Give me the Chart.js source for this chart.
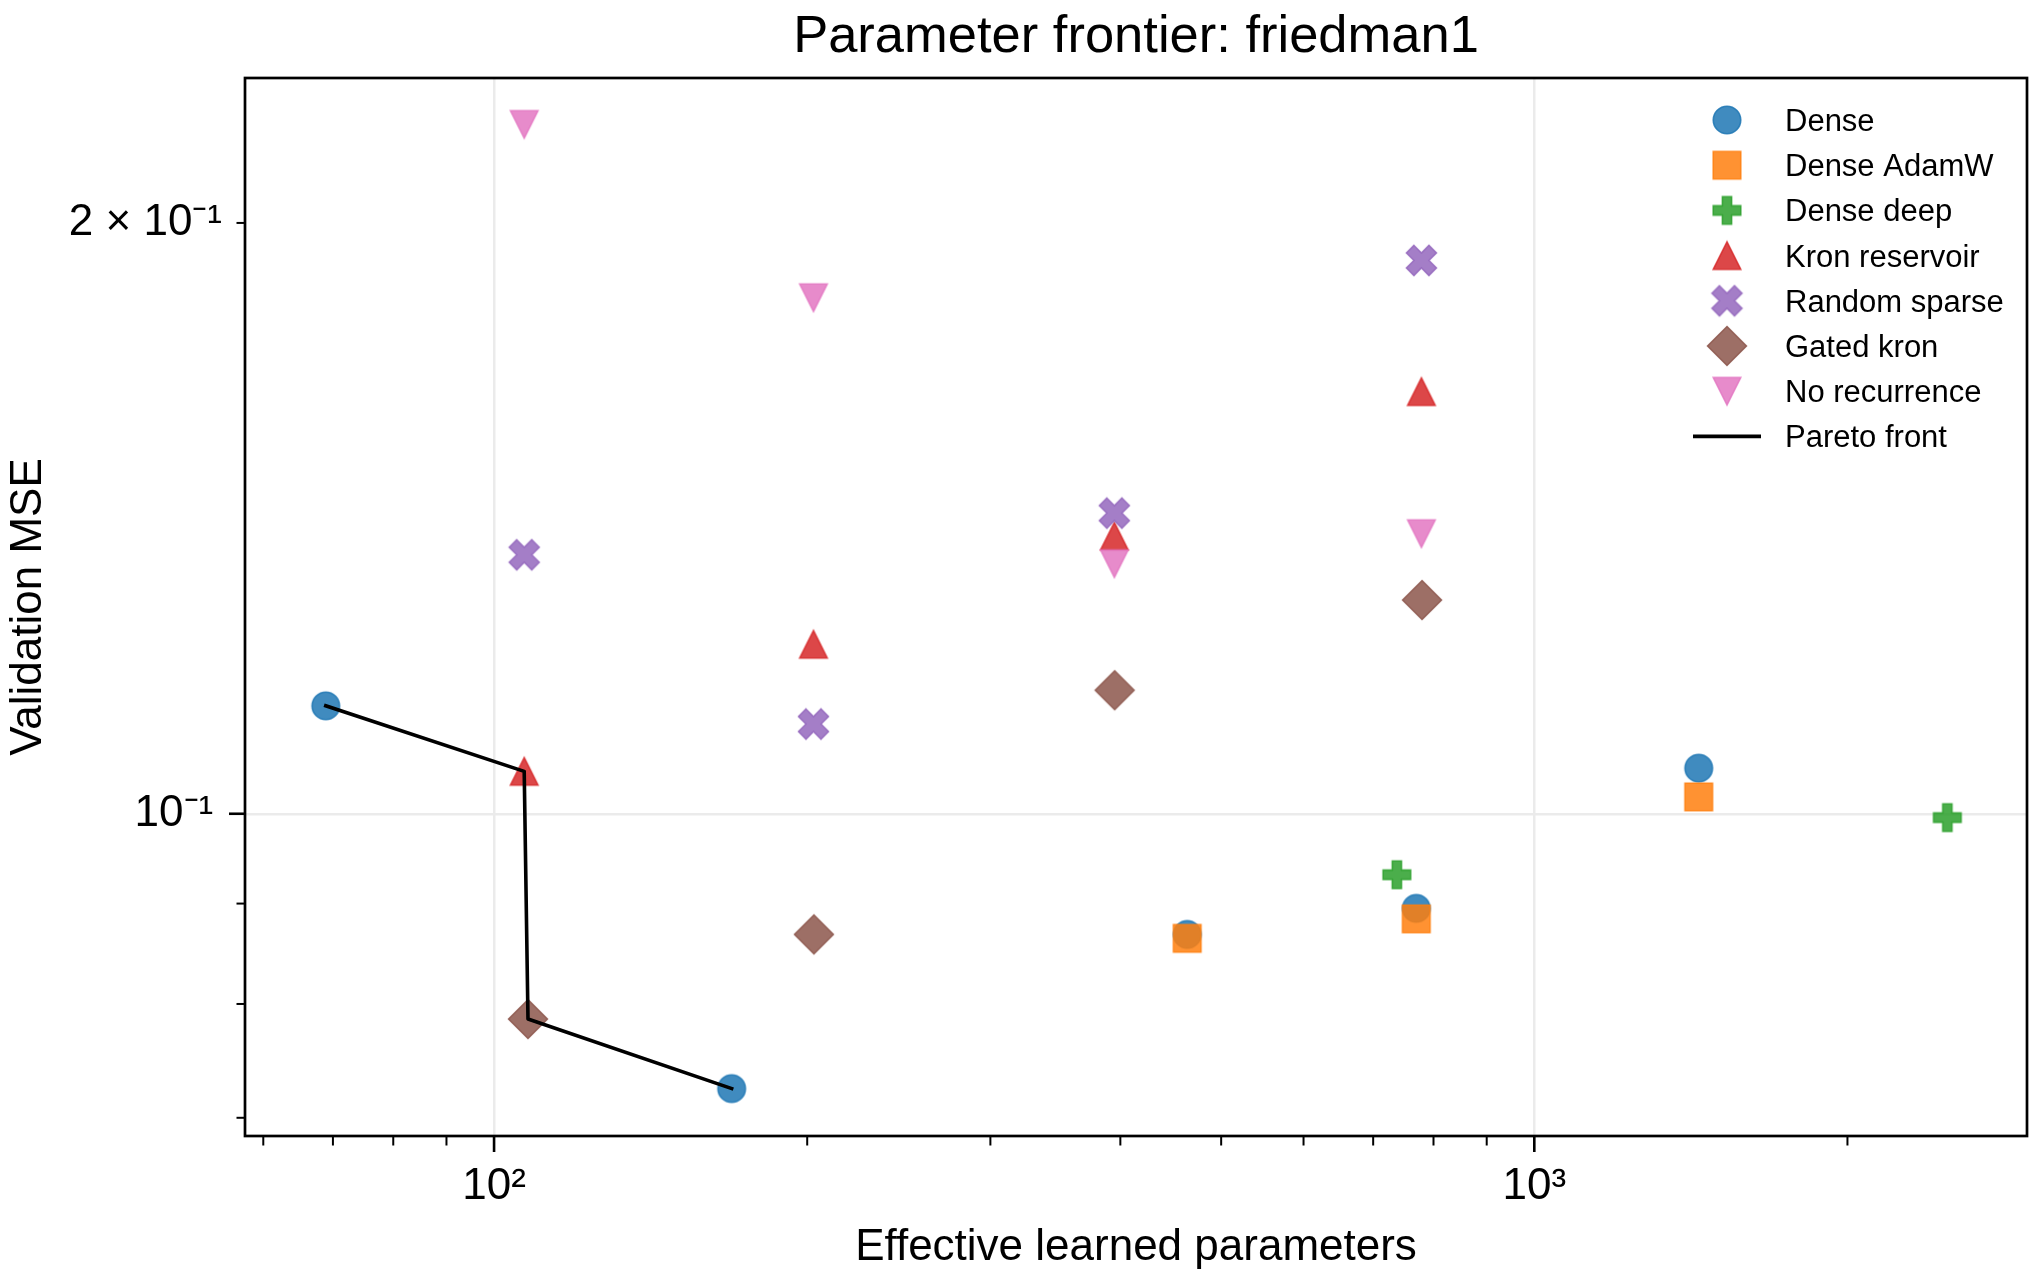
<!DOCTYPE html>
<html><head><meta charset="utf-8">
<script src="https://cdn.jsdelivr.net/npm/chart.js@4.4.1/dist/chart.umd.min.js"></script>
<style>html,body{margin:0;padding:0;background:#fff;}canvas{display:block;}</style>
</head><body>
<canvas id="c" width="2042" height="1284"></canvas>
<script>
// ---- data ----
const seriesNames = ['Dense', 'Dense AdamW', 'Dense deep', 'Kron reservoir', 'Random sparse', 'Gated kron', 'No recurrence'];
const denseX = [68.9, 169.2, 463.8, 770.1, 1439];
const denseY = [0.1135, 0.07244, 0.0868, 0.0895, 0.1055];
const adamwX = [463.8, 770.1, 1439];
const adamwY = [0.0864, 0.0884, 0.1020];
const deepX = [737.7, 2495];
const deepY = [0.0931, 0.09955];
const kronX = [106.9, 202.8, 394.7, 778.9];
const kronY = [0.1051, 0.1220, 0.1385, 0.1641];
const sparseX = [106.9, 202.8, 394.7, 778.9];
const sparseY = [0.1355, 0.1111, 0.1423, 0.1914];
const gatedX = [107.8, 203.0, 395.0, 780.0];
const gatedY = [0.0786, 0.0868, 0.1156, 0.1285];
const norecX = [106.9, 202.8, 394.7, 778.9];
const norecY = [0.2245, 0.1832, 0.1341, 0.1389];
const paretoLabel = 'Pareto front';
const paretoX = [68.9, 106.9, 107.8, 169.2];
const paretoY = [0.1135, 0.1051, 0.0786, 0.07244];
const xTickValues = [60, 70, 80, 90, 100, 200, 300, 400, 500, 600, 700, 800, 900, 1000, 2000];
const xTickLabels = ['', '', '', '', '10²', '', '', '', '', '', '', '', '', '10³', ''];
const xMajor = [100, 1000];
const yTickValues = [0.07, 0.08, 0.09, 0.1, 0.2];
const yTickLabels = ['', '', '', '10⁻¹\u2009', '2 × 10⁻¹'];
const yMajor = [0.1];
const titleText = 'Parameter frontier: friedman1';
const xTitle = 'Effective learned parameters';
const yTitle = 'Validation MSE';

// ---- styles ----
const FONT = '"Liberation Sans", Arial, Helvetica, sans-serif';
const colors = ['#1f77b4', '#ff7f0e', '#2ca02c', '#d62728', '#9467bd', '#8c564b', '#e377c2'];
const shapes = ['circle', 'square', 'plus', 'triUp', 'xfill', 'diamond', 'triDown'];
const sizes = [27.5, 27.5, 27.5, 27.5, 30, 27.5, 27.5];

function rgba(hex, a) {
  const n = parseInt(hex.slice(1), 16);
  return `rgba(${(n >> 16) & 255},${(n >> 8) & 255},${n & 255},${a})`;
}
function polyPath(g, pts, k) {
  pts.forEach((p, i) => { if (i === 0) g.moveTo(p[0] * k, p[1] * k); else g.lineTo(p[0] * k, p[1] * k); });
  g.closePath();
}
function markerCanvas(shape, color, size) {
  const dim = Math.ceil(size * 1.5 + 6);
  const c = document.createElement('canvas');
  c.width = dim; c.height = dim;
  const g = c.getContext('2d');
  g.translate(dim / 2, dim / 2);
  const h = size / 2;
  g.beginPath();
  if (shape === 'circle') g.arc(0, 0, h, 0, Math.PI * 2);
  else if (shape === 'square') g.rect(-h, -h, size, size);
  else if (shape === 'plus') polyPath(g, [[-1,-3],[-1,-1],[-3,-1],[-3,1],[-1,1],[-1,3],[1,3],[1,1],[3,1],[3,-1],[1,-1],[1,-3]], size / 6);
  else if (shape === 'xfill') polyPath(g, [[-1,-2],[0,-1],[1,-2],[2,-1],[1,0],[2,1],[1,2],[0,1],[-1,2],[-2,1],[-1,0],[-2,-1]], size / 4);
  else if (shape === 'triUp') polyPath(g, [[0,-1],[-1,1],[1,1]], h);
  else if (shape === 'triDown') polyPath(g, [[0,1],[-1,-1],[1,-1]], h);
  else if (shape === 'diamond') polyPath(g, [[0,-1],[1,0],[0,1],[-1,0]], h * Math.SQRT2);
  g.fillStyle = rgba(color, 0.85);
  g.fill();
  g.lineWidth = 1.6;
  g.lineJoin = 'miter';
  g.strokeStyle = rgba(color, 0.85);
  g.stroke();
  return c;
}
const markers = shapes.map((s, i) => markerCanvas(s, colors[i], sizes[i]));

const seriesX = [denseX, adamwX, deepX, kronX, sparseX, gatedX, norecX];
const seriesY = [denseY, adamwY, deepY, kronY, sparseY, gatedY, norecY];
const toPts = (xs, ys) => xs.map((x, i) => ({ x: x, y: ys[i] }));

const datasets = seriesNames.map((name, i) => ({
  label: name,
  data: toPts(seriesX[i], seriesY[i]),
  pointStyle: markers[i],
  pointRadius: 14,
  pointHoverRadius: 14,
  backgroundColor: colors[i],
  borderColor: colors[i],
  order: seriesNames.length - i
}));
datasets.push({
  label: paretoLabel,
  data: toPts(paretoX, paretoY),
  showLine: true,
  borderColor: '#000000',
  backgroundColor: '#000000',
  borderWidth: 3.6,
  borderJoinStyle: 'round',
  borderCapStyle: 'square',
  pointRadius: 0,
  pointHoverRadius: 0,
  tension: 0,
  order: 0
});

const decorPlugin = {
  id: 'decor',
  afterDraw(chart) {
    const g = chart.ctx;
    const a = chart.chartArea;
    const xs = chart.scales.x, ys = chart.scales.y;
    g.save();
    // tick marks (outward)
    g.strokeStyle = '#000';
    g.lineCap = 'butt';
    xTickValues.forEach(v => {
      const px = xs.getPixelForValue(v);
      const major = xMajor.includes(v);
      g.lineWidth = major ? 2.6 : 2.0;
      g.beginPath(); g.moveTo(px, a.bottom); g.lineTo(px, a.bottom + (major ? 16 : 9.5)); g.stroke();
    });
    yTickValues.forEach(v => {
      const py = ys.getPixelForValue(v);
      const major = yMajor.includes(v);
      g.lineWidth = major ? 2.6 : 2.0;
      g.beginPath(); g.moveTo(a.left, py); g.lineTo(a.left - (major ? 16 : 8.5), py); g.stroke();
    });
    // frame
    g.lineWidth = 2.7;
    g.lineJoin = 'miter';
    g.strokeRect(a.left, a.top, a.right - a.left, a.bottom - a.top);
    // title
    g.fillStyle = '#000';
    g.font = `52.5px ${FONT}`;
    g.textAlign = 'center';
    g.textBaseline = 'alphabetic';
    g.fillText(titleText, (a.left + a.right) / 2, 52);
    // legend
    const lx = a.right - 300, ly = a.top + 42, step = 45.2;
    g.font = `31px ${FONT}`;
    g.textAlign = 'left';
    chart.data.datasets.forEach((ds, i) => {
      const y = ly + i * step;
      if (ds.showLine) {
        g.strokeStyle = ds.borderColor; g.lineWidth = 3.6; g.lineCap = 'butt';
        g.beginPath(); g.moveTo(lx - 34, y); g.lineTo(lx + 34, y); g.stroke();
      } else {
        const m = ds.pointStyle;
        g.drawImage(m, lx - m.width / 2, y - m.height / 2);
      }
      g.fillStyle = '#000';
      g.fillText(ds.label, lx + 58, y + 11);
    });
    g.restore();
  }
};

new Chart(document.getElementById('c'), {
  type: 'scatter',
  data: { datasets: datasets },
  options: {
    responsive: false,
    animation: false,
    devicePixelRatio: 1,
    layout: { padding: { top: 78, right: 14, left: 0, bottom: 0 } },
    plugins: { legend: { display: false }, tooltip: { enabled: false }, title: { display: false } },
    scales: {
      x: {
        type: 'logarithmic',
        min: 57.62, max: 2976,
        afterBuildTicks: s => { s.ticks = xTickValues.map(v => ({ value: v, major: xMajor.includes(v) })); },
        afterFit: s => { s.height = 148; },
        ticks: {
          autoSkip: false, maxRotation: 0, minRotation: 0, padding: 24,
          color: '#000', font: { family: FONT, size: 44 },
          callback: (v, i) => xTickLabels[i]
        },
        grid: {
          drawTicks: false, lineWidth: 2.5,
          color: c => (c.tick && xMajor.includes(c.tick.value)) ? '#ebebeb' : 'rgba(0,0,0,0)'
        },
        border: { display: false },
        title: { display: true, text: xTitle, color: '#000', font: { family: FONT, size: 44 }, padding: { top: 0, bottom: 9.6 } }
      },
      y: {
        type: 'logarithmic',
        min: 0.06852, max: 0.23707,
        afterBuildTicks: s => { s.ticks = yTickValues.map(v => ({ value: v, major: yMajor.includes(v) })); },
        afterFit: s => { s.width = 245; },
        ticks: {
          autoSkip: false, padding: 23,
          color: '#000', font: { family: FONT, size: 44 },
          callback: (v, i) => yTickLabels[i]
        },
        grid: {
          drawTicks: false, lineWidth: 2.5,
          color: c => (c.tick && yMajor.includes(c.tick.value)) ? '#ebebeb' : 'rgba(0,0,0,0)'
        },
        border: { display: false },
        title: { display: true, text: yTitle, color: '#000', font: { family: FONT, size: 44 }, padding: { top: 2, bottom: 0 } }
      }
    }
  },
  plugins: [decorPlugin]
});
</script>
</body></html>
